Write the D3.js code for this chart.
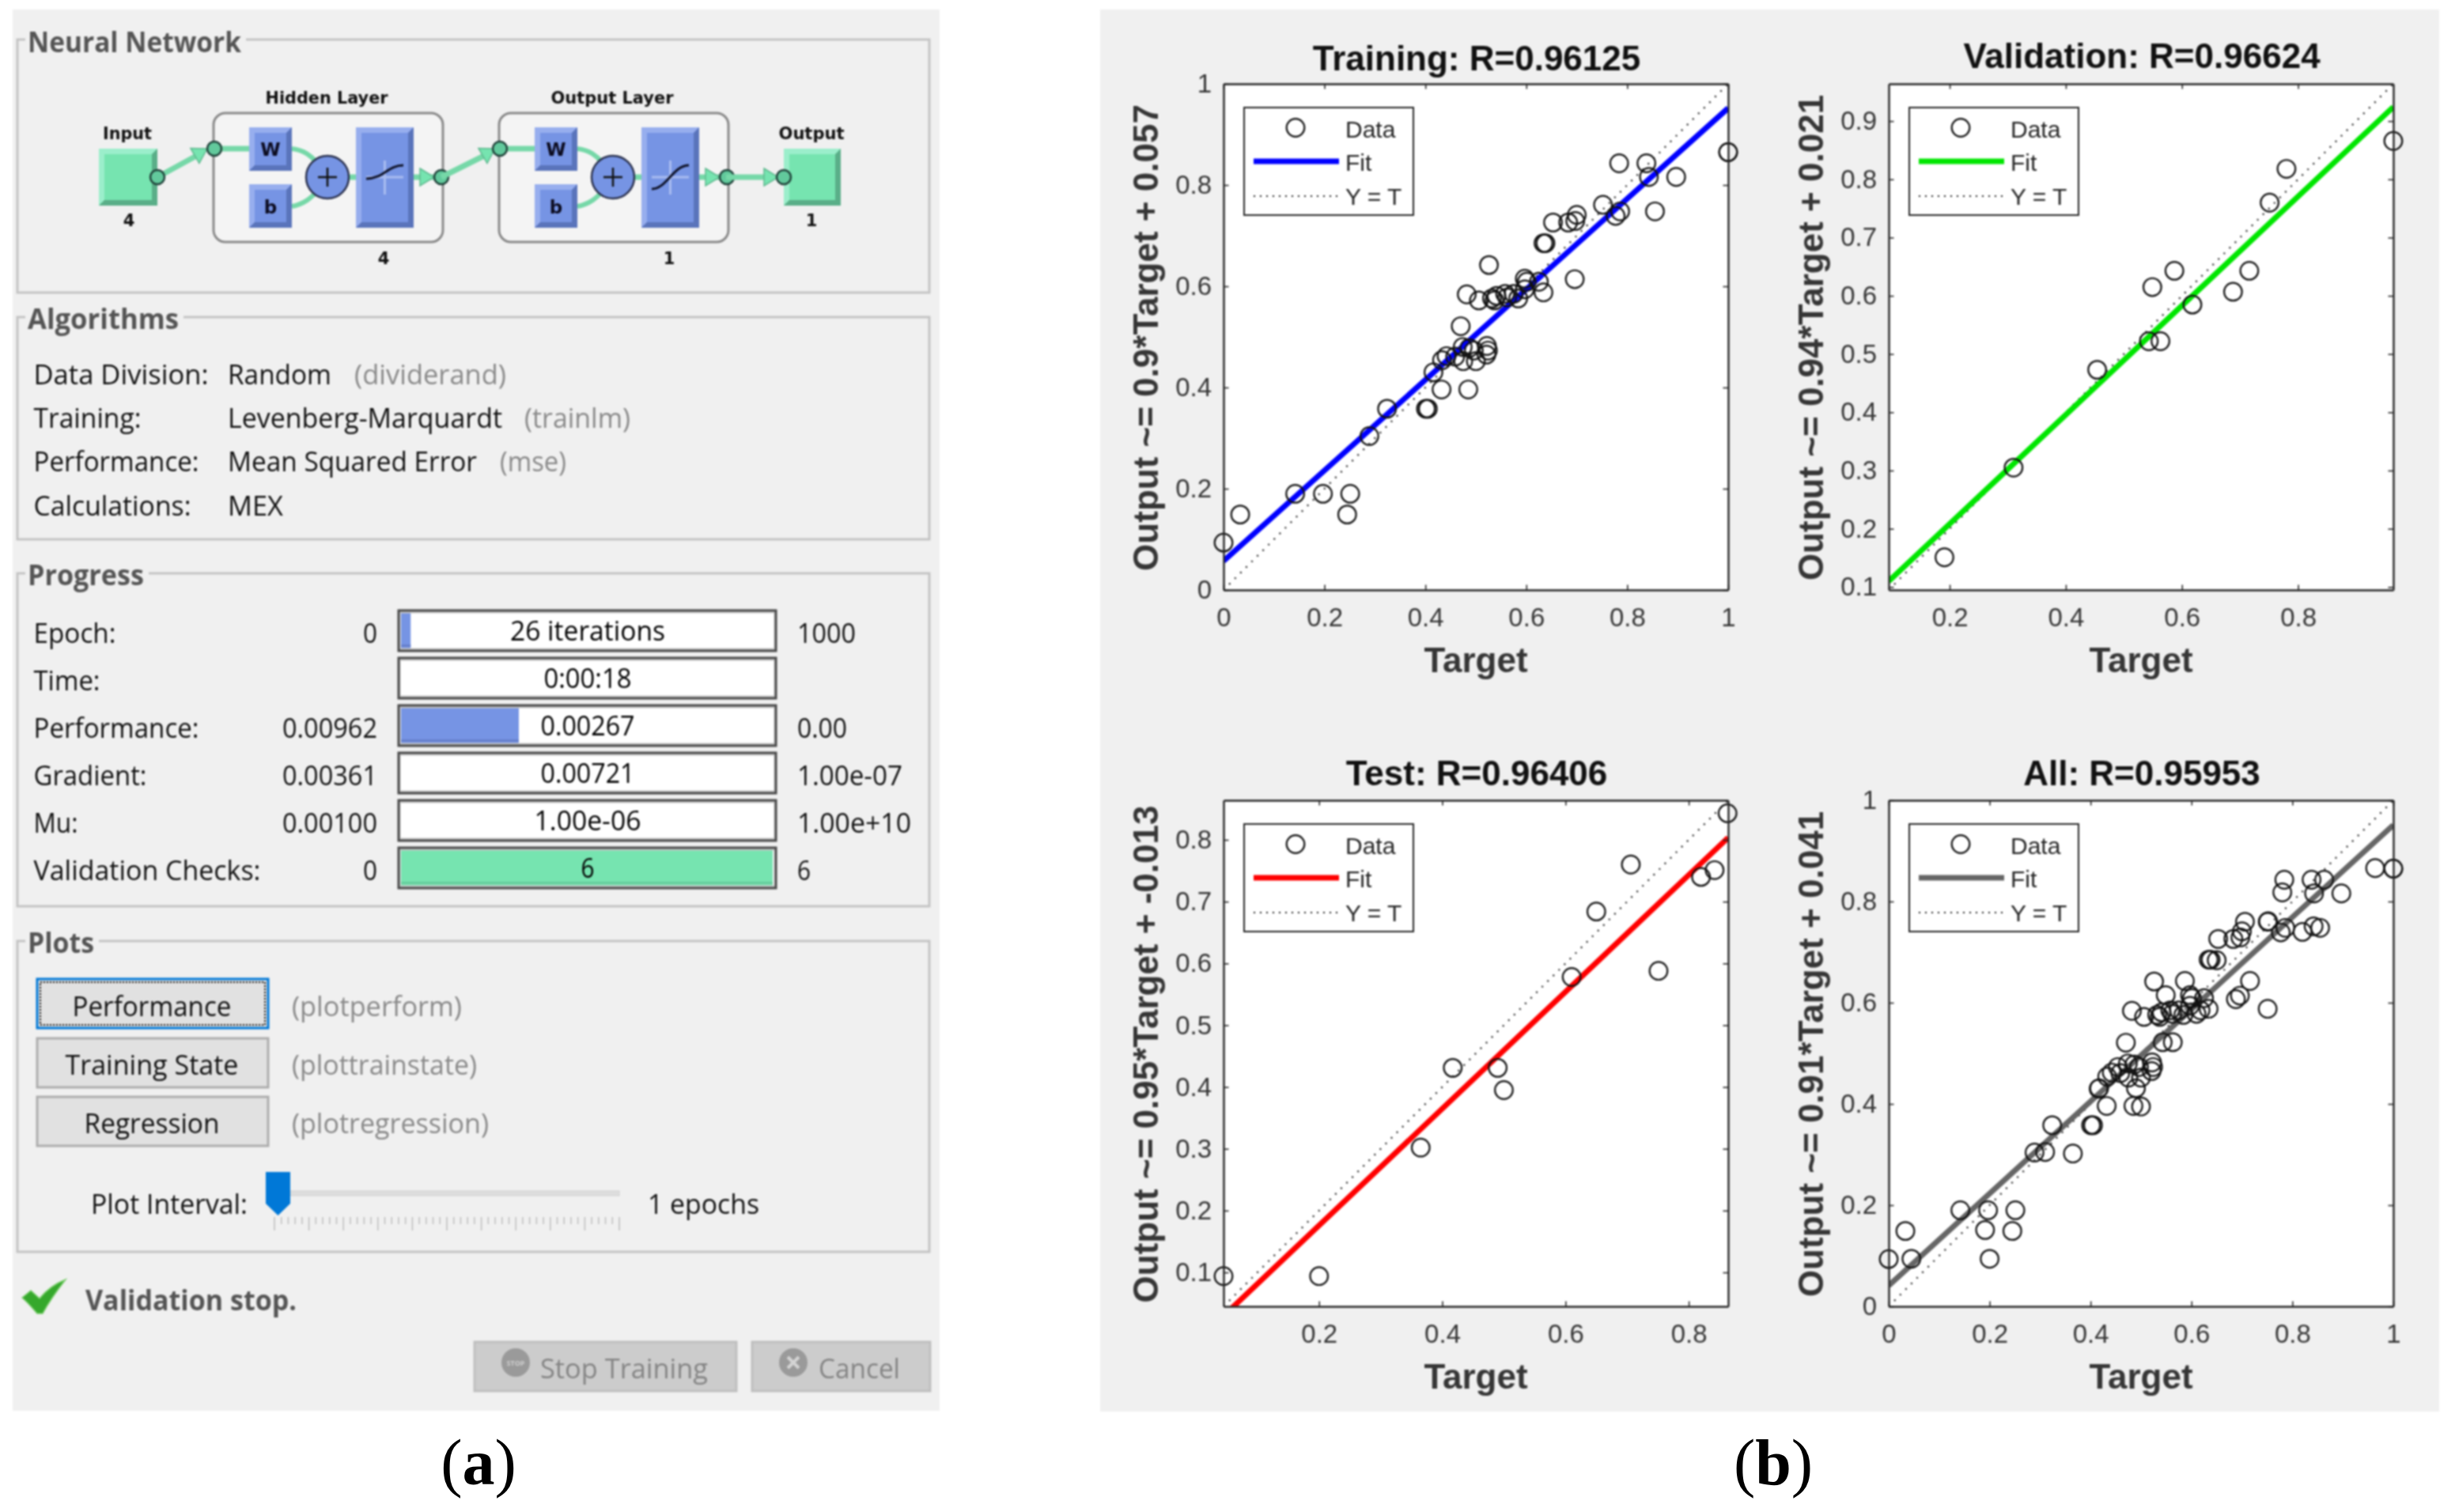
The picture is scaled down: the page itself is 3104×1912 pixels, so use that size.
<!DOCTYPE html>
<html>
<head>
<meta charset="utf-8">
<title>Neural network training</title>
<script src="https://cdn.jsdelivr.net/npm/d3@7"></script>
<style>
  html, body { margin: 0; padding: 0; background: #fff; }
  svg { display: block; }
  /* the source is an enlarged screenshot, edges are a bit soft */
  .soft { filter: blur(0.8px); }
</style>
</head>
<body>
<div id="chart"></div>
<script>
// values
const trainTarget = [0, .033, .142, .197, .251, .245, .289, .324, .401, .405, .416, .432, .485, .433, .442, .459, .475, .470, .474, .487, .500, .496, .522, .524, .521, .482, .506, .526, .532, .541, .537, .558, .562, .575, .584, .597, .597, .601, .625, .634, .634, .638, .653, .683, .697, .700, .696, .752, .777, .786, .784, .838, .843, .855, .897, 1, 1];
const trainOutput = [.0935, .149, .19, .19, .19, .149, .304, .358, .358, .358, .43, .396, .396, .454, .462, .461, .452, .521, .48, .478, .452, .473, .482, .473, .465, .584, .572, .642, .576, .581, .572, .585, .578, .585, .576, .594, .615, .609, .609, .588, .685, .685, .726, .726, .729, .741, .614, .761, .739, .748, .843, .843, .816, .748, .816, .865, .865];
const valTarget = [.191, .310, .454, .543, .563, .549, .587, .618, .688, .716, .751, .780, .964];
const valOutput = [.151, .305, .473, .522, .522, .615, .643, .585, .607, .643, .760, .818, .866];
const testTarget = [.045, .2, .365, .417, .49, .5, .61, .65, .706, .751, .82, .842, .863];
const testOutput = [.094, .094, .302, .431, .431, .395, .578, .684, .76, .588, .74, .751, .843];
const allTarget = trainTarget.concat(valTarget, testTarget);
const allOutput = trainOutput.concat(valOutput, testOutput);

const plotTitles = ["Training: R=0.96125", "Validation: R=0.96624", "Test: R=0.96406", "All: R=0.95953"];
const plotYLabels = ["Output ~= 0.9*Target + 0.057", "Output ~= 0.94*Target + 0.021", "Output ~= 0.95*Target + -0.013", "Output ~= 0.91*Target + 0.041"];
const fitSlopes = [.895, .937, .945, .91];
const fitIntercepts = [.057, .021, -.013, .041];
const axisRanges = [[0, 1], [.095, .964], [.045, .864], [0, 1]];
const xTickValues = [[0, .2, .4, .6, .8, 1], [.2, .4, .6, .8], [.2, .4, .6, .8], [0, .2, .4, .6, .8, 1]];
const yTickValues = [[0, .2, .4, .6, .8, 1], [.1, .2, .3, .4, .5, .6, .7, .8, .9], [.1, .2, .3, .4, .5, .6, .7, .8], [0, .2, .4, .6, .8, 1]];

const progressLabels = ["Epoch:", "Time:", "Performance:", "Gradient:", "Mu:", "Validation Checks:"];
const progressStart = ["0", "", "0.00962", "0.00361", "0.00100", "0"];
const progressNow = ["26 iterations", "0:00:18", "0.00267", "0.00721", "1.00e-06", "6"];
const progressEnd = ["1000", "", "0.00", "1.00e-07", "1.00e+10", "6"];
const progressFill = [.026, 0, .317, 0, 0, 1];

const width = 3104, height = 1912;
const INK = "#262626", LABEL = "#363636", GREEN = "#76e4b0", BLUE = "#7694e4", GREY = "#8a8a8a";
const UI_FONT = "'Open Sans', sans-serif", PLOT_FONT = "'Liberation Sans', Arial, sans-serif";

const svg = d3.select("#chart").append("svg")
    .attr("width", width)
    .attr("height", height);

// text with a fixed width, the original font is narrower than what we have here
const txt = (g, x, y, s, o = {}) => {
    const t = g.append("text")
        .attr("x", x).attr("y", y)
        .attr("font-family", o.font || UI_FONT)
        .attr("font-size", o.size || 35)
        .attr("font-weight", o.weight || "normal")
        .attr("fill", o.fill || "#111")
        .attr("text-anchor", o.anchor || "start")
        .text(s);
    if (o.w) t.attr("textLength", o.w).attr("lengthAdjust", "spacingAndGlyphs");
    return t;
};

const rect = (g, x0, y0, x1, y1, fill, stroke, sw) => g.append("rect")
    .attr("x", x0).attr("y", y0)
    .attr("width", x1 - x0).attr("height", y1 - y0)
    .attr("fill", fill || "none")
    .attr("stroke", stroke || "none")
    .attr("stroke-width", sw || 0);

/* ---------- left panel (a) ---------- */
const left = svg.append("g").attr("class", "soft");
rect(left, 16, 12, 1188, 1784, "#f0f0f0");

const groupBox = (top, bottom, title, titleEnd, baseline) => {
    rect(left, 22, top, 1175, bottom, "none", "#c4c4c4", 3);
    rect(left, 32, top - 4, titleEnd + 6, top + 4, "#f0f0f0");
    txt(left, 35, baseline, title, {weight: "bold", fill: "#555", size: 36, w: titleEnd - 35});
};
groupBox(50, 370, "Neural Network", 305, 66);
groupBox(401, 682, "Algorithms", 226, 416);
groupBox(725, 1146, "Progress", 182, 740);
groupBox(1190, 1583, "Plots", 119, 1205);

// algorithm rows
[
    ["Data Division:", 221, 486, "Random", 131, "(dividerand)", 448, 192],
    ["Training:", 136, 541, "Levenberg-Marquardt", 347, "(trainlm)", 663, 134],
    ["Performance:", 209, 596, "Mean Squared Error", 315, "(mse)", 632, 84],
    ["Calculations:", 199, 652, "MEX", 70, "", 0, 0]
].forEach(r => {
    txt(left, 42.5, r[2], r[0], {w: r[1]});
    txt(left, 288, r[2], r[3], {w: r[4]});
    if (r[5]) txt(left, r[6], r[2], r[5], {w: r[7], fill: GREY});
});

// progress rows
const fillScale = d3.scaleLinear().domain([0, 1]).range([507, 977]);
const labelWidths = [104, 84, 209, 143, 56, 287];
const nowWidths = [196, 111, 119, 119, 135, 17];
const endWidths = [74, 0, 63, 133, 144, 17];
progressLabels.forEach((label, i) => {
    const top = 771 + i * 60, base = 813 + i * 60;
    txt(left, 42.5, base, label, {w: labelWidths[i]});
    if (progressStart[i]) txt(left, 477, base, progressStart[i], {anchor: "end", w: progressStart[i].length > 1 ? 120 : 18});
    if (progressEnd[i]) txt(left, 1008, base, progressEnd[i], {w: endWidths[i]});
    rect(left, 503, top, 982, top + 53, "#fff");
    if (progressFill[i] > 0) {
        rect(left, 507, top + 4, fillScale(progressFill[i]), top + 49, i === 5 ? GREEN : BLUE);
        rect(left, 507, top + 44, fillScale(progressFill[i]), top + 47, i === 5 ? "#66cc9c" : "#6680cc");
    }
    rect(left, 505, top + 3, 980, top + 50, "none", "#c8c8c8", 3);
    rect(left, 504, top + 1, 981, top + 52, "none", "#4a4a4a", 3);
    txt(left, 743, base - 3, progressNow[i], {anchor: "middle", w: nowWidths[i], fill: "#000"});
});

// plot buttons
[
    ["Performance", 1237, 1285, 201, "(plotperform)", 215],
    ["Training State", 1312, 1359, 219, "(plottrainstate)", 234],
    ["Regression", 1386, 1433, 171, "(plotregression)", 249]
].forEach((b, i) => {
    rect(left, 47, b[1] + 1, 339, b[1] + 63, "#e1e1e1", i === 0 ? "#0078d7" : "#adadad", 3);
    if (i === 0) rect(left, 51, b[1] + 5, 335, b[1] + 59, "none", "#111", 2).attr("stroke-dasharray", "2 2");
    txt(left, 192, b[2], b[0], {anchor: "middle", w: b[3]});
    txt(left, 369, b[2], b[4], {w: b[5], fill: GREY});
});

// plot interval slider
txt(left, 115, 1535, "Plot Interval:", {w: 198});
txt(left, 819, 1535, "1 epochs", {w: 141});
rect(left, 367, 1506, 783, 1512, "#dedede", "#d0d0d0", 1);
left.append("g").selectAll("line")
    .data(d3.range(51))
    .join("line")
    .attr("x1", i => 347 + i * 8.72).attr("x2", i => 347 + i * 8.72)
    .attr("y1", 1539)
    .attr("y2", i => i % 5 === 0 ? 1556 : 1548)
    .attr("stroke", "#bdbdbd").attr("stroke-width", 1.5);
left.append("path")
    .attr("d", "M336,1482H367V1522L351.5,1537L336,1522Z")
    .attr("fill", "#0078d7");

// status line
left.append("path")
    .attr("d", "M28,1641L39,1632L50,1642C58,1632 70,1623 83,1618C72,1632 62,1646 54,1661L47,1661C41,1654 35,1647 28,1641Z")
    .attr("fill", "#35a82c").attr("stroke", "#7ccf6e").attr("stroke-width", 1.5);
txt(left, 108, 1657, "Validation stop.", {weight: "bold", w: 267, fill: "#555", size: 35});

// disabled buttons
rect(left, 600, 1697, 931, 1759, "#cccccc", "#bfbfbf", 3);
rect(left, 951, 1697, 1176, 1759, "#cccccc", "#bfbfbf", 3);
left.append("circle").attr("cx", 652).attr("cy", 1723).attr("r", 18).attr("fill", "#9a9a9a");
txt(left, 652, 1727, "STOP", {anchor: "middle", size: 9, fill: "#cfcfcf", weight: "bold"});
left.append("circle").attr("cx", 1003).attr("cy", 1723).attr("r", 18).attr("fill", "#9a9a9a");
left.append("path").attr("d", "M996,1716L1010,1730M1010,1716L996,1730")
    .attr("stroke", "#d4d4d4").attr("stroke-width", 4);
txt(left, 683, 1743, "Stop Training", {w: 212, fill: "#858585"});
txt(left, 1035, 1743, "Cancel", {w: 103, fill: "#858585"});

/* ---------- network diagram ---------- */
const net = left.append("g");

const bevel = (x0, y0, x1, y1, base, light, dark, b) => {
    rect(net, x0, y0, x1, y1, base);
    net.append("path").attr("d", `M${x0},${y0}H${x1}L${x1 - b},${y0 + b}H${x0 + b}V${y1 - b}L${x0},${y1}Z`).attr("fill", light);
    net.append("path").attr("d", `M${x1},${y0}V${y1}H${x0}L${x0 + b},${y1 - b}H${x1 - b}V${y0 + b}Z`).attr("fill", dark);
};
const wire = (d, w) => net.append("path").attr("d", d).attr("fill", "none")
    .attr("stroke", "#76d8a8").attr("stroke-width", w || 7);
const head = (x, y, angle) => net.append("path")
    .attr("d", "M-18,-11L0,0L-18,11Z")
    .attr("transform", `translate(${x},${y}) rotate(${angle})`)
    .attr("fill", "#76e4b0").attr("stroke", "#5fb98f").attr("stroke-width", 1.5);
const node = (x, y) => net.append("circle").attr("cx", x).attr("cy", y).attr("r", 9)
    .attr("fill", "#62c99c").attr("stroke", "#20423a").attr("stroke-width", 2.5);
const small = (x, y, s, w) => txt(net, x, y, s, {font: "'DejaVu Sans', sans-serif", weight: "bold", size: 21, anchor: "middle", w: w});

// one layer box: dx is the shift from the hidden layer, curve is the transfer function drawing
const layer = (dx, title, size, curve) => {
    rect(net, 270 + dx, 143, 560 + dx, 306, "#f4f4f4", "#8a8a8a", 3).attr("rx", 15);
    small(413 + dx, 131, title, 155);
    wire(`M${271 + dx},188H${315 + dx}`);
    wire(`M${369 + dx},188C${385 + dx},190 ${393 + dx},197 ${400 + dx},205`, 6);
    wire(`M${369 + dx},261C${385 + dx},258 ${393 + dx},250 ${400 + dx},243`, 6);
    wire(`M${440 + dx},224H${451 + dx}`);
    wire(`M${523 + dx},224H${550 + dx}`);
    bevel(315 + dx, 161, 369 + dx, 216, BLUE, "#97aeee", "#5a74bb", 7);
    bevel(315 + dx, 233, 369 + dx, 288, BLUE, "#97aeee", "#5a74bb", 7);
    bevel(450 + dx, 161, 523 + dx, 288, BLUE, "#97aeee", "#5a74bb", 7);
    txt(net, 342 + dx, 197, "W", {font: "'DejaVu Sans', sans-serif", weight: "bold", size: 23, anchor: "middle", fill: "#0c0c20"});
    txt(net, 342 + dx, 270, "b", {font: "'DejaVu Sans', sans-serif", weight: "bold", size: 23, anchor: "middle", fill: "#0c0c20"});
    net.append("circle").attr("cx", 414 + dx).attr("cy", 224).attr("r", 27)
        .attr("fill", BLUE).attr("stroke", "#2c3350").attr("stroke-width", 2.5);
    net.append("path").attr("d", `M${402 + dx},224H${426 + dx}M${414 + dx},212V236`)
        .attr("stroke", "#111").attr("stroke-width", 2.5);
    net.append("path").attr("d", `M${463 + dx},224H${510 + dx}M${486.5 + dx},203V246`)
        .attr("stroke", "#a9bcf0").attr("stroke-width", 3);
    net.append("path").attr("d", curve(dx)).attr("fill", "none").attr("stroke", "#10142a").attr("stroke-width", 3);
    small(485 + dx, 334, size);
    head(549 + dx, 224, 0);
    node(558 + dx, 224);
    node(271 + dx, 188);
};

bevel(125, 188, 199, 260, GREEN, "#9beecb", "#5aae88", 7);
bevel(991, 188, 1063, 260, GREEN, "#9beecb", "#5aae88", 7);
small(161, 176, "Input", 62);
small(163, 286, "4");
small(1026, 176, "Output", 83);
small(1026, 286, "1");
wire("M199,224L252,195");
head(262, 188, -30);
layer(0, "Hidden Layer", "4", dx => `M463,226C485,226 490,209 510,209`);
wire("M558,224L616,195");
head(626, 188, -30);
layer(361, "Output Layer", "1", dx => `M${463 + dx},239C${482 + dx},239 ${490 + dx},209 ${510 + dx},209`);
wire("M918,224H975");
head(984, 224, 0);
node(199, 224);
node(991, 224);

/* ---------- right panel (b) ---------- */
const plotX = [1547, 2388, 1547, 2388];
const plotY = [106, 106, 1012, 1012];
const plotW = 638, plotH = 640;
const fitColors = ["#0000ff", "#00e600", "#ff0000", "#666666"];
const titleShift = [17, 20, 19, 19];
const targets = [trainTarget, valTarget, testTarget, allTarget];
const outputs = [trainOutput, valOutput, testOutput, allOutput];

const right = svg.append("g").attr("class", "soft");
rect(right, 1391, 12, 3084, 1785, "#f0f0f0");

plotTitles.forEach((title, i) => {
    const g = right.append("g").attr("transform", `translate(${plotX[i]},${plotY[i]})`);
    const x = d3.scaleLinear().domain(axisRanges[i]).range([0, plotW]);
    const y = d3.scaleLinear().domain(axisRanges[i]).range([plotH, 0]);
    const line = d3.line().x(d => x(d[0])).y(d => y(d[1]));
    const ends = axisRanges[i];

    rect(g, 0, 0, plotW, plotH, "#fff");

    g.append("clipPath").attr("id", "clip" + i)
        .append("rect").attr("width", plotW).attr("height", plotH);

    g.append("path")
        .attr("clip-path", `url(#clip${i})`)
        .attr("d", line(ends.map(t => [t, t])))
        .attr("fill", "none")
        .attr("stroke", "#222").attr("stroke-width", 2.2).attr("stroke-dasharray", "2 8");
    g.append("path")
        .attr("clip-path", `url(#clip${i})`)
        .attr("d", line(ends.map(t => [t, fitSlopes[i] * t + fitIntercepts[i]])))
        .attr("fill", "none")
        .attr("stroke", fitColors[i]).attr("stroke-width", 7);

    g.append("g").selectAll("circle")
        .data(targets[i].map((t, k) => [t, outputs[i][k]]))
        .join("circle")
        .attr("cx", d => x(d[0]))
        .attr("cy", d => y(d[1]))
        .attr("r", 11.3)
        .attr("fill", "none")
        .attr("stroke", "#111").attr("stroke-width", 2.2);

    // matlab style box: ticks point in on all four sides, labels on two
    const fmt = d => String(+d.toFixed(1));
    const styleAxis = a => {
        a.selectAll("path").attr("stroke", INK).attr("stroke-width", 2.4);
        a.selectAll("line").attr("stroke", INK).attr("stroke-width", 1.6);
        a.selectAll("text").attr("fill", LABEL).attr("font-size", 33).attr("font-family", PLOT_FONT);
    };
    g.append("g").attr("transform", `translate(0,${plotH})`)
        .call(d3.axisBottom(x).tickValues(xTickValues[i]).tickFormat(fmt).tickSize(-6.5).tickSizeOuter(0).tickPadding(23))
        .call(styleAxis);
    g.append("g")
        .call(d3.axisLeft(y).tickValues(yTickValues[i]).tickFormat(fmt).tickSize(-6.5).tickSizeOuter(0).tickPadding(15))
        .call(styleAxis);
    g.append("g")
        .call(d3.axisTop(x).tickValues(xTickValues[i]).tickFormat("").tickSize(-6.5).tickSizeOuter(0))
        .call(styleAxis);
    g.append("g").attr("transform", `translate(${plotW},0)`)
        .call(d3.axisRight(y).tickValues(yTickValues[i]).tickFormat("").tickSize(-6.5).tickSizeOuter(0))
        .call(styleAxis);

    txt(g, plotW / 2 + 1, -titleShift[i], title, {font: PLOT_FONT, weight: "bold", size: 44, anchor: "middle", fill: "#111"});
    txt(g, plotW / 2, plotH + 104, "Target", {font: PLOT_FONT, weight: "bold", size: 44, anchor: "middle", fill: LABEL});
    txt(g, 0, 0, plotYLabels[i], {font: PLOT_FONT, weight: "bold", size: 44, anchor: "middle", fill: LABEL})
        .attr("transform", `translate(-83,${plotH / 2 + 1}) rotate(-90)`);

    // legend
    const lg = g.append("g").attr("transform", "translate(26,30)");
    rect(lg, 0, 0, 214, 136, "#fff", INK, 2);
    lg.append("circle").attr("cx", 65).attr("cy", 25.5).attr("r", 11.3)
        .attr("fill", "none").attr("stroke", "#111").attr("stroke-width", 2.2);
    lg.append("line").attr("x1", 12).attr("x2", 120).attr("y1", 68).attr("y2", 68)
        .attr("stroke", fitColors[i]).attr("stroke-width", 7);
    lg.append("line").attr("x1", 12).attr("x2", 120).attr("y1", 112).attr("y2", 112)
        .attr("stroke", "#222").attr("stroke-width", 2.2).attr("stroke-dasharray", "2 6");
    ["Data", "Fit", "Y = T"].forEach((s, k) => {
        txt(lg, 128, [38, 80, 123][k], s, {font: PLOT_FONT, size: 30, fill: INK});
    });
});

/* ---------- panel letters ---------- */
const letter = (cx, s) => {
    const t = svg.append("text").attr("x", cx).attr("y", 1877)
        .attr("text-anchor", "middle")
        .attr("font-family", "'Liberation Serif', serif")
        .attr("font-size", 82).attr("fill", "#000");
    t.append("tspan").text("(");
    t.append("tspan").attr("font-weight", "bold").text(s);
    t.append("tspan").text(")");
};
letter(605, "a");
letter(2242, "b");
</script>
</body>
</html>
